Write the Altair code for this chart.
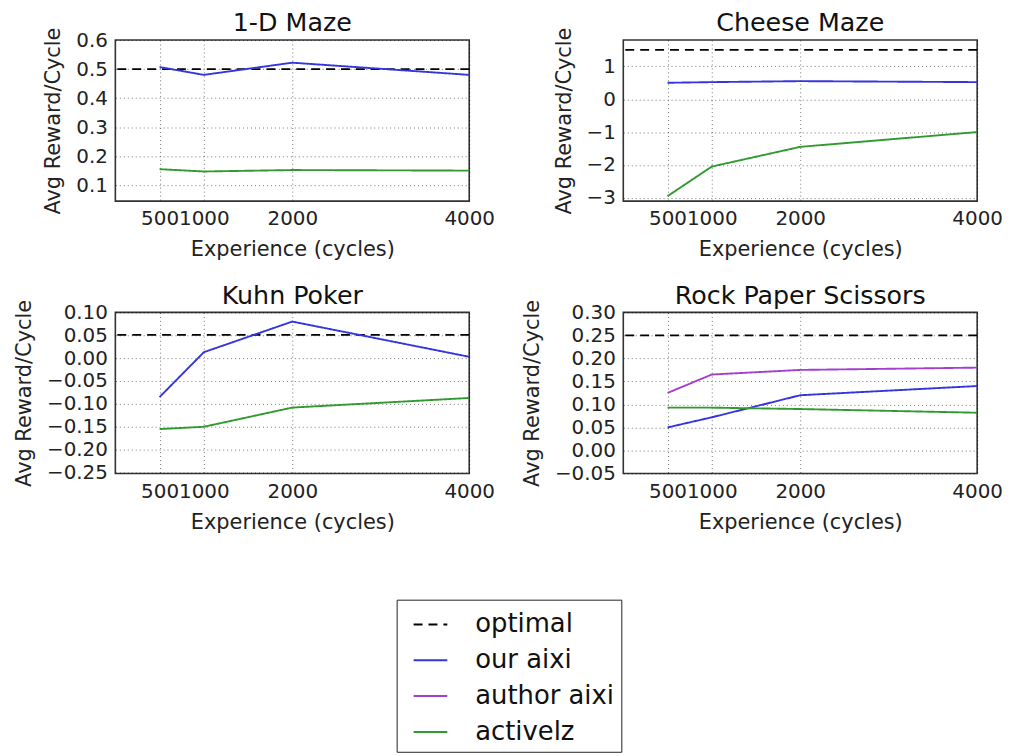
import altair as alt
import pandas as pd

# ---------------- data ----------------
x_points = [500, 1000, 2000, 4000]
series_names = ["optimal", "our aixi", "author aixi", "activelz"]
series_colors = ["#000000", "#3535dd", "#a23fcf", "#2f9a2f"]

panel_titles = ["1-D Maze", "Cheese Maze", "Kuhn Poker", "Rock Paper Scissors"]
optimal_values = [0.5, 1.5, 0.051, 0.25]

maze1_ours = [0.507, 0.480, 0.522, 0.480]
maze1_activelz = [0.155, 0.147, 0.152, 0.150]

cheese_ours = [0.50, 0.52, 0.55, 0.52]
cheese_activelz = [-2.95, -2.05, -1.45, -1.00]

kuhn_ours = [-0.085, 0.013, 0.080, 0.003]
kuhn_activelz = [-0.155, -0.150, -0.108, -0.087]

rps_ours = [0.050, 0.072, 0.120, 0.140]
rps_author = [0.125, 0.165, 0.175, 0.180]
rps_activelz = [0.093, 0.093, 0.090, 0.082]

y_domains = [[0.045, 0.6], [-3.1, 1.8], [-0.252, 0.10], [-0.05, 0.30]]
y_ticks = [
    [0.1, 0.2, 0.3, 0.4, 0.5, 0.6],
    [-3, -2, -1, 0, 1],
    [-0.25, -0.20, -0.15, -0.10, -0.05, 0.0, 0.05, 0.10],
    [-0.05, 0.0, 0.05, 0.10, 0.15, 0.20, 0.25, 0.30],
]
y_formats = [".1f", "d", ".2f", ".2f"]

panel_series = [
    {"our aixi": maze1_ours, "activelz": maze1_activelz},
    {"our aixi": cheese_ours, "activelz": cheese_activelz},
    {"our aixi": kuhn_ours, "activelz": kuhn_activelz},
    {"our aixi": rps_ours, "author aixi": rps_author, "activelz": rps_activelz},
]

FONT = "DejaVu Sans"

legend = alt.Legend(
    title=None,
    orient="none",
    legendX=283,
    legendY=563,
    strokeColor="#222222",
    fillColor="white",
    padding=7,
    labelFontSize=26,
    labelFont=FONT,
    labelColor="#111111",
    labelOffset=27,
    symbolOffset=9,
    symbolType="stroke",
    symbolSize=1150,
    symbolStrokeWidth=2,
    rowPadding=5,
)

color_enc = alt.Color(
    "series:N",
    scale=alt.Scale(domain=series_names, range=series_colors),
    legend=legend,
)
dash_enc = alt.StrokeDash(
    "series:N",
    scale=alt.Scale(domain=series_names, range=[[9, 6], [1, 0], [1, 0], [1, 0]]),
    legend=legend,
)


def make_panel(i):
    rows = []
    for name, vals in panel_series[i].items():
        for xv, yv in zip(x_points, vals):
            rows.append({"series": name, "x": xv, "y": yv})
    df = pd.DataFrame(rows)
    opt_df = pd.DataFrame({"series": ["optimal"], "y": [optimal_values[i]]})

    xenc = alt.X(
        "x:Q",
        scale=alt.Scale(domain=[0, 4000], nice=False),
        axis=alt.Axis(
            values=x_points,
            format="d",
            title="Experience (cycles)",
            labelOverlap=False,
            labelFlush=False,
            labelBound=False,
        ),
    )
    yscale = alt.Scale(domain=y_domains[i], nice=False, zero=False)
    yaxis = alt.Axis(
        values=y_ticks[i],
        format=y_formats[i],
        title="Avg Reward/Cycle",
        labelOverlap=False,
        labelFlush=False,
    )

    opt = alt.Chart(opt_df).mark_rule(strokeWidth=1.8).encode(
        y=alt.Y("y:Q", scale=yscale, axis=yaxis),
        color=color_enc,
        strokeDash=dash_enc,
    )
    lines = alt.Chart(df).mark_line(strokeWidth=1.9, clip=True).encode(
        x=xenc,
        y=alt.Y("y:Q", scale=yscale, axis=yaxis),
        color=color_enc,
        strokeDash=dash_enc,
        detail="series:N",
    )
    return alt.layer(opt, lines).properties(
        width=356,
        height=162,
        title=alt.TitleParams(
            panel_titles[i],
            fontSize=25.5,
            fontWeight="normal",
            font=FONT,
            color="#111111",
            offset=-10,
            frame="group",
        ),
    )


chart = (
    alt.concat(*[make_panel(i) for i in range(4)], columns=2,
               spacing=alt.RowColnumber(row=22, column=24))
    .configure_view(stroke="#333333", strokeWidth=1.6)
    .configure_axis(
        labelFont=FONT,
        titleFont=FONT,
        labelFontSize=20,
        titleFontSize=21,
        titleFontWeight="normal",
        labelColor="#222222",
        titleColor="#222222",
        ticks=False,
        domain=False,
        grid=True,
        gridColor="#000000",
        gridOpacity=0.55,
        gridDash=[1, 3],
        gridWidth=1,
        labelPadding=8,
    )
    .configure_axisX(titlePadding=10)
    .configure_axisY(titlePadding=12)
    .properties(padding={"left": 4, "top": 0, "right": 0, "bottom": 0}, background="white")
)

chart.save("out.html", embed_options={"renderer": "svg", "actions": False})
